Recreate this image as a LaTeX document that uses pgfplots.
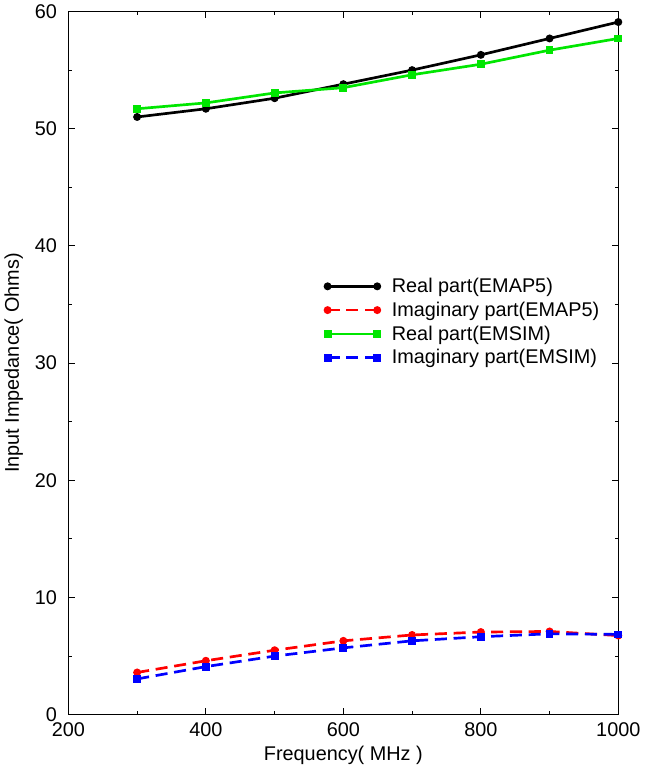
\documentclass[border=0pt]{standalone}
\usepackage{fontspec}
\setmainfont{Liberation Sans}
\usepackage{pgfplots}
\pgfplotsset{compat=1.18}
\definecolor{egreen}{RGB}{0,230,0}

\begin{document}
\begin{tikzpicture}
  \begin{axis}[
      scale only axis, width=410pt, height=524.25pt,
      xmin=200, xmax=1000, ymin=0, ymax=60,
      xtick={200,400,...,1000}, ytick={0,10,...,60},
      minor x tick num=1, minor y tick num=1,
      tick align=inside, tick pos=both,
      major tick length=5pt, minor tick length=2.5pt,
      xlabel={Frequency( MHz )}, ylabel={Input Impedance( Ohms)},
      font=\fontsize{14.8}{17}\selectfont,
      /pgf/number format/assume math mode=true,
      /pgf/number format/1000 sep={},
      yticklabel style={xshift=-5pt},
      xticklabel style={yshift=-2.5pt},
      ylabel style={yshift=2pt},
      xlabel style={yshift=0pt},
      axis line style={line width=0.8pt},
      every tick/.style={black, line width=0.6pt},
      legend style={draw=none, fill=none, at={(axis cs:573,37.5)}, anchor=north west,
        inner sep=0pt, row sep=1.5pt, column sep=7pt, font=\fontsize{14.8}{17}\selectfont},
      legend cell align=left,
      legend image code/.code={%
        \draw[#1] plot coordinates {(0pt,0pt) (37pt,0pt)};},
    ]
    \addplot[black, line width=2pt, mark=*, mark size=1.9pt] coordinates {
      (300,51.0) (400,51.7) (500,52.6) (600,53.8) (700,55.0) (800,56.3) (900,57.7) (1000,59.1) };
    \addlegendentry{Real part(EMAP5)}
    \addplot[red, line width=2pt, dash pattern=on 9pt off 5pt, mark=*, mark size=1.9pt,
      mark options={solid}] coordinates {
      (300,3.6) (400,4.6) (500,5.5) (600,6.3) (700,6.8) (800,7.05) (900,7.1) (1000,6.75) };
    \addlegendentry{Imaginary part(EMAP5)}
    \addplot[egreen, line width=2pt, mark=square*, mark size=1.9pt] coordinates {
      (300,51.7) (400,52.2) (500,53.05) (600,53.5) (700,54.6) (800,55.5) (900,56.7) (1000,57.7) };
    \addlegendentry{Real part(EMSIM)}
    \addplot[blue, line width=2pt, dash pattern=on 9pt off 5pt, mark=square*, mark size=1.9pt,
      mark options={solid}] coordinates {
      (300,3.05) (400,4.1) (500,5.0) (600,5.7) (700,6.3) (800,6.65) (900,6.9) (1000,6.85) };
    \addlegendentry{Imaginary part(EMSIM)}
  \end{axis}
\end{tikzpicture}
\end{document}
